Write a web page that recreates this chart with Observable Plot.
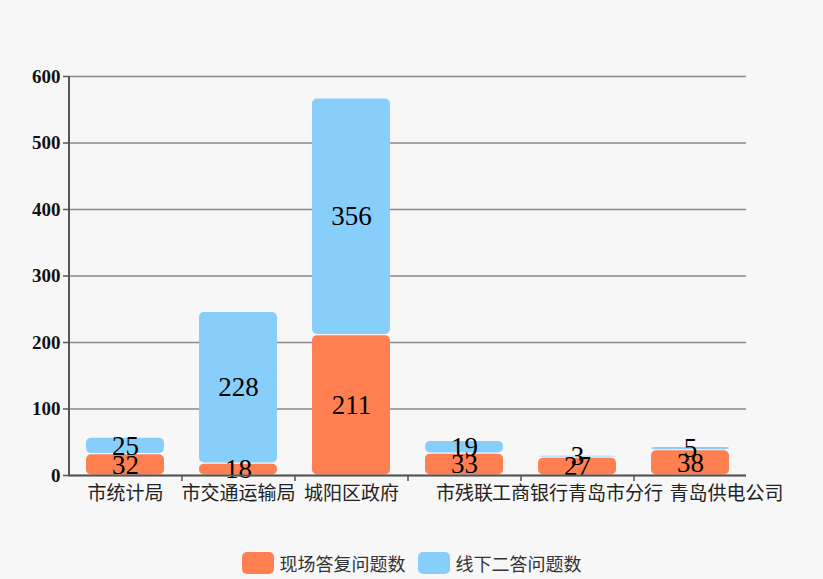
<!DOCTYPE html>
<html>
<head>
<meta charset="utf-8">
<script src="https://cdn.jsdelivr.net/npm/d3@7"></script>
<script src="https://cdn.jsdelivr.net/npm/@observablehq/plot@0.6"></script>
<style>
  html, body { margin: 0; padding: 0; background: #f7f7f7; }
  #chart { width: 823px; height: 579px; position: relative; overflow: hidden; }
  .legend { display: flex; justify-content: center; align-items: center; gap: 12px; height: 22px; margin-top: 7px;
    font-family: "Noto Sans CJK SC", sans-serif; font-size: 18px; color: #333; }
  .item { display: flex; align-items: center; gap: 6px; }
  .sw { width: 32px; height: 22px; border-radius: 5px; display: inline-block; }
</style>
</head>
<body>
<div id="chart"></div>
<script>
const categories = ["市统计局", "市交通运输局", "城阳区政府", "市残联", "工商银行青岛市分行", "青岛供电公司"];
const seriesNames = ["现场答复问题数", "线下二答问题数"];
const onSite = [32, 18, 211, 33, 27, 38];
const offline = [25, 228, 356, 19, 3, 5];
const yTicks = [0, 100, 200, 300, 400, 500, 600];
const colors = ["#FF7F50", "#87CEFA"];

const data = categories.flatMap((c, i) => [
  {cat: c, series: seriesNames[0], value: onSite[i]},
  {cat: c, series: seriesNames[1], value: offline[i]}
]);

const W = 823, H = 545;
const mL = 68, mR = 77;
const step = (W - mL - mR) / categories.length;
const xFont = {tickSize: 0, tickPadding: 11, fontSize: 19, fontFamily: "Noto Sans CJK SC, sans-serif", color: "#222", label: null};

const chart = Plot.plot({
  width: W, height: H,
  marginLeft: mL, marginRight: mR, marginTop: 76, marginBottom: H - 475,
  style: {background: "transparent", overflow: "visible"},
  x: {domain: categories, paddingInner: 0.31, paddingOuter: 0.155, label: null, axis: null},
  y: {domain: [0, 600], label: null, axis: null},
  color: {domain: seriesNames, range: colors},
  marks: [
    Plot.gridY(yTicks, {stroke: "#888", strokeOpacity: 1, strokeWidth: 1.3}),
    Plot.barY(data, Plot.stackY({x: "cat", y: "value", fill: "series", order: seriesNames, rx: 5, insetTop: 0.6, insetBottom: 0.6})),
    Plot.text(data, Plot.stackY({x: "cat", y: "value", z: "series", order: seriesNames, text: "value",
      fontSize: 27, fontFamily: "Liberation Serif, serif", fill: "#000"})),
    Plot.axisY(yTicks, {tickSize: 5, tickPadding: 3, fontSize: 19, fontWeight: "bold",
      fontFamily: "Liberation Serif, serif", stroke: "#555", color: "#111", strokeWidth: 1.5, label: null}),
    Plot.ruleX([categories[0]], {dx: -step / 2, y1: 0, y2: 600, stroke: "#555", strokeWidth: 2}),
    Plot.ruleY([0], {stroke: "#555", strokeWidth: 2}),
    Plot.ruleX(categories.slice(1), {dx: -step / 2, y1: 0, y2: 0, insetBottom: -6, stroke: "#555", strokeWidth: 1.5}),
    Plot.axisX(categories.slice(0, -1), xFont),
    Plot.axisX(categories.slice(-1), {...xFont, dx: 36})
  ]
});
document.getElementById("chart").appendChild(chart);

const legend = document.createElement("div");
legend.className = "legend";
seriesNames.forEach((s, i) => {
  const it = document.createElement("div");
  it.className = "item";
  const sw = document.createElement("span");
  sw.className = "sw";
  sw.style.background = colors[i];
  const t = document.createElement("span");
  t.textContent = s;
  it.appendChild(sw); it.appendChild(t);
  legend.appendChild(it);
});
document.getElementById("chart").appendChild(legend);
</script>
</body>
</html>
